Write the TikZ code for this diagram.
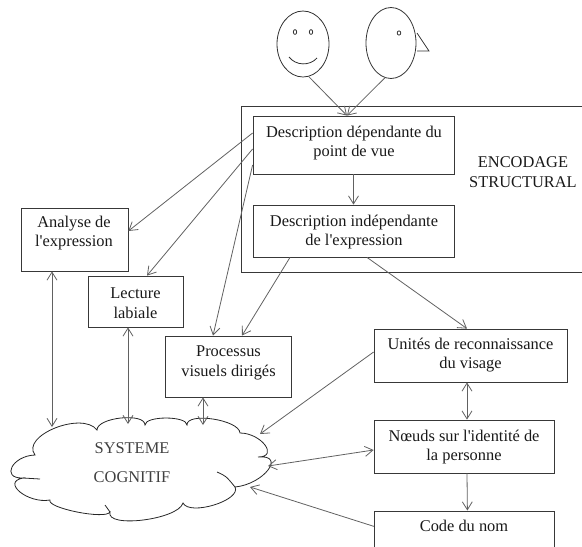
\documentclass[tikz,border=0pt]{standalone}
\usepackage{fontspec}
\setmainfont{Liberation Serif}
\usetikzlibrary{shapes.geometric,arrows.meta,calc}
\newcommand\diagfont{\fontsize{16.4pt}{19.5pt}\selectfont}
\tikzset{
  box/.style={draw=black!78, line width=0.8pt, rectangle, inner sep=0pt},
  txt/.style={font=\diagfont, align=center, inner sep=0pt, text=black!90},
  tipb/.tip={Straight Barb[length=8pt,width=10pt,line width=0.8pt]},
  arr/.style={draw=black!62, line width=0.8pt, -tipb},
  darr/.style={draw=black!62, line width=0.8pt, tipb-tipb},
  faceline/.style={draw=black!80, line width=0.8pt},
  cloudline/.style={draw=black!85, line width=0.8pt},
}
\begin{document}
\begin{tikzpicture}[x=1pt,y=-1pt]
\useasboundingbox (0,0) rectangle (582,547);
\clip (0,0) rectangle (582,547);

% faces
\node[ellipse, faceline, minimum width=52pt, minimum height=66pt, inner sep=0pt] (f1) at (303,44) {};
\node[ellipse, faceline, minimum width=50pt, minimum height=71pt, inner sep=0pt] (f2) at (391,43) {};
\draw[faceline] (295,32) ellipse (1.7pt and 2.4pt);
\draw[faceline] (311,32) ellipse (1.7pt and 2.4pt);
\draw[faceline] (289,57) .. controls (296,66) and (310,66) .. (317,58);
\draw[faceline] (399,33) ellipse (1.8pt and 2.1pt);
\draw[faceline] (417,33) -- (429,51) -- (417,51);

% structural encoding frame
\node[box, minimum width=360pt, minimum height=166pt, anchor=north west] (enc) at (241,106) {};
\node[txt] (tenc) at (523,172) {ENCODAGE\\STRUCTURAL};

% boxes
\node[box, minimum width=201pt, minimum height=58pt] (b1) at (353.5,145) {};
\node[txt] (t1) at (354,143) {Description dépendante du\\point de vue};
\node[box, minimum width=201pt, minimum height=52pt] (b2) at (353.5,231) {};
\node[txt] (t2) at (354,232) {Description indépendante\\de l\textquotesingle expression};
\node[box, minimum width=107pt, minimum height=63pt] (ana) at (74.5,239.5) {};
\node[txt] (tana) at (74,233) {Analyse de\\l\textquotesingle expression};
\node[box, minimum width=95pt, minimum height=51pt] (lec) at (135.5,301.5) {};
\node[txt] (tlec) at (135.5,303) {Lecture\\labiale};
\node[box, minimum width=126pt, minimum height=61pt] (pro) at (228,366.5) {};
\node[txt] (tpro) at (228.5,363) {Processus\\visuels dirigés};
\node[box, minimum width=193pt, minimum height=53pt] (uni) at (470.5,355.5) {};
\node[txt] (tuni) at (470.5,355) {Unités de reconnaissance\\du visage};
\node[box, minimum width=180pt, minimum height=53pt] (noe) at (464,446.5) {};
\node[txt] (tnoe) at (464,447) {Nœuds sur l\textquotesingle identité de\\la personne};
\node[box, minimum width=180pt, minimum height=50pt, anchor=north west] (cod) at (374,510.5) {};
\node[txt] (tcod) at (464,526) {Code du nom};

% cloud
\draw[cloudline] (35,455)
 .. controls (20.3,435.7) and (82.3,410.7) .. (97,430)
 .. controls (97,417.3) and (145,412.3) .. (145,425)
 .. controls (145,415.7) and (187,415.7) .. (187,425)
 .. controls (186.3,411.7) and (239.3,419.7) .. (240,433)
 .. controls (261.3,433) and (279.3,457) .. (258,457)
 .. controls (286.7,454.3) and (263.7,484.3) .. (235,487)
 .. controls (241.7,500.3) and (189.7,516.3) .. (183,503)
 .. controls (178.3,519.7) and (105.3,528.7) .. (110,512)
 .. controls (106,520) and (46,508) .. (50,500)
 .. controls (28,504) and (1,482) .. (23,478)
 .. controls (0.3,478.7) and (12.3,455.7) .. (35,455) -- cycle;
\draw[cloudline] (23,478) -- (40,479);
\draw[cloudline] (217,472) .. controls (226,476) .. (235,487);
\draw[cloudline] (105,505) -- (110,512);
\node[txt, text=black!75] (sys) at (132,462.5) {SYSTEME\\[10pt]COGNITIF};

% cloud contact points
\coordinate (cA) at (52,427);
\coordinate (cL) at (128,424);
\coordinate (cP) at (203,425);
\coordinate (cU) at (260,434);
\coordinate (cN) at (268,466);
\coordinate (cC) at (250,487);
\coordinate (in1) at ($(b1.north)+(-6.5,0)$);

% connectors
\draw[arr] (f1.-80) -- (in1);
\draw[arr] (f2.-100) -- (in1);
\draw[arr] (b1.south) -- (b2.north);
\draw[arr] ($(b1.west)+(0,-12)$) -- ($(ana.east)+(0,-8.5)$);
\draw[arr] ($(b1.west)+(0,4)$) -- ($(lec.north)+(11.5,0)$);
\draw[arr] ($(b1.west)+(0,20)$) -- ($(pro.north)+(-15,0)$);
\draw[arr] ($(b2.south)+(-63.5,0)$) -- ($(pro.north)+(14,0)$);
\draw[arr] ($(b2.south)+(13.5,0)$) -- ($(uni.north)+(-3.5,0)$);
\draw[darr] ($(uni.south)+(-3.5,0)$) -- ($(noe.north)+(3,0)$);
\draw[arr] ($(noe.south)+(3,0)$) -- ($(cod.north)+(3,0)$);
\draw[darr] (ana.south -| cA) -- (cA);
\draw[darr] (lec.south -| cL) -- (cL);
\draw[darr] (pro.south -| cP) -- (cP);
\draw[arr] ($(uni.west)+(0,-3.5)$) -- (cU);
\draw[darr] ($(noe.west)+(0,3.5)$) -- (cN);
\draw[arr] ($(cod.west)+(0,-9.5)$) -- (cC);
\end{tikzpicture}
\end{document}
